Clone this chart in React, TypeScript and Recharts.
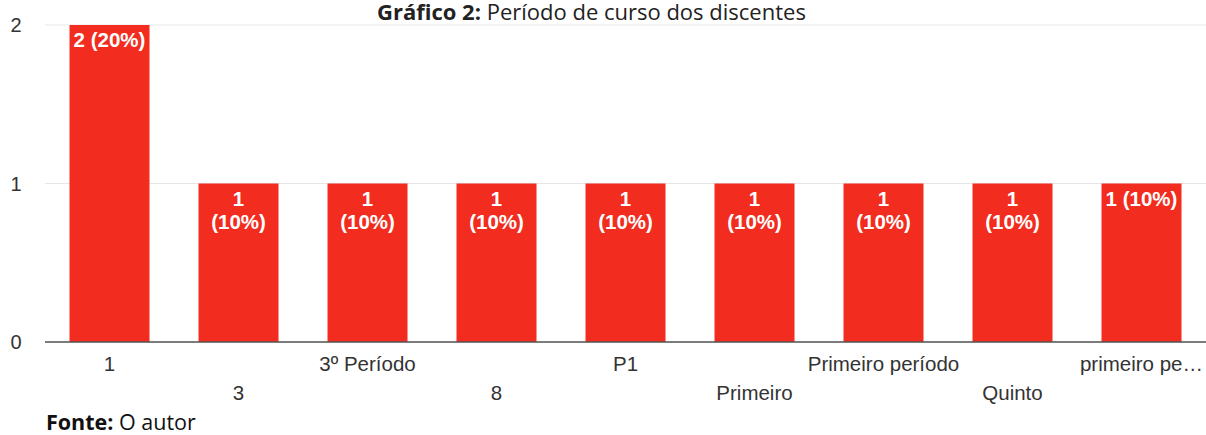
// Gráfico 2 — Período de curso dos discentes (bar chart, counts + share)
import React from 'react';
import { BarChart, Bar, XAxis, YAxis, CartesianGrid, LabelList } from 'recharts';

const categories = ['1', '3', '3º Período', '8', 'P1', 'Primeiro', 'Primeiro período', 'Quinto', 'primeiro pe…'];
const counts = [2, 1, 1, 1, 1, 1, 1, 1, 1];
const yTicks = [0, 1, 2];
// labels that the original chart broke onto two lines
const wrapped = [false, true, true, true, true, true, true, true, false];

const total = counts.reduce((a, b) => a + b, 0);
const data = categories.map((name, i) => ({
  name,
  value: counts[i],
  pct: Math.round((counts[i] / total) * 100),
  wrap: wrapped[i],
}));

const W = 1206;
const H = 435;
const RED = '#f22c1e';
const FONT = '"Liberation Sans", Arial, sans-serif';

const XTick = (props: any) => {
  const { x, payload, index } = props;
  const row = index % 2 === 0 ? 371 : 400;
  return (
    <text x={x} y={row} textAnchor="middle" fontSize={20.5} fontFamily={FONT} fill="#333">
      {payload.value}
    </text>
  );
};

const YTick = (props: any) => {
  const { y, payload } = props;
  return (
    <text x={16} y={y + 7} textAnchor="middle" fontSize={20} fontFamily={FONT} fill="#333">
      {payload.value}
    </text>
  );
};

const BarLabel = (props: any) => {
  const { x, y, width, index } = props;
  const d = data[index];
  const cx = x + width / 2;
  const common = { textAnchor: 'middle' as const, fontSize: 20.5, fontWeight: 700, fontFamily: FONT, fill: '#fff' };
  if (!d.wrap) {
    return <text x={cx} y={y + 22} {...common}>{`${d.value} (${d.pct}%)`}</text>;
  }
  return (
    <g>
      <text x={cx} y={y + 22} {...common}>{d.value}</text>
      <text x={cx} y={y + 45} {...common}>{`(${d.pct}%)`}</text>
    </g>
  );
};

export default function App() {
  return (
    <div style={{ position: 'absolute', left: 0, top: 0, width: W, height: H, background: '#fff', overflow: 'hidden' }}>
      <BarChart width={W} height={H} data={data} margin={{ top: 25, right: 0, bottom: 33, left: 0 }} barCategoryGap="19%">
        <CartesianGrid vertical={false} stroke="#e6e6e6" />
        <XAxis dataKey="name" height={60} tick={<XTick />} tickLine={false} axisLine={{ stroke: '#555', strokeWidth: 1.5 }} interval={0} />
        <YAxis width={45} domain={[0, 2]} ticks={yTicks} tick={<YTick />} tickLine={false} axisLine={false} />
        <Bar dataKey="value" fill={RED} isAnimationActive={false}>
          <LabelList dataKey="value" content={<BarLabel />} />
        </Bar>
      </BarChart>
      <div style={{ position: 'absolute', top: 0, left: 377, whiteSpace: 'nowrap', fontFamily: '"Open Sans", sans-serif', fontSize: 22, lineHeight: '22px', color: '#222' }}>
        <b>Gráfico 2:</b> Período de curso dos discentes
      </div>
      <div style={{ position: 'absolute', left: 46, top: 407, whiteSpace: 'nowrap', fontFamily: '"Open Sans", sans-serif', fontSize: 21.5, color: '#111' }}>
        <b>Fonte:</b> O autor
      </div>
    </div>
  );
}
